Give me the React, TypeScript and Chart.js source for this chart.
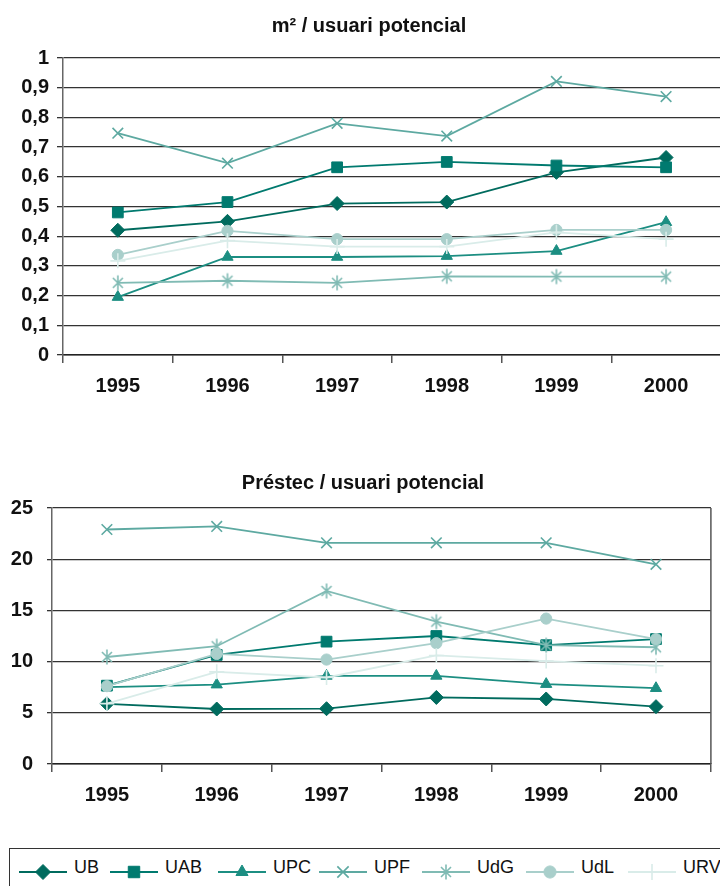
import React, { useEffect, useRef } from 'react';
import { Chart, registerables } from 'chart.js';
import { drawPoint } from 'chart.js/helpers';

Chart.register(...registerables);

// ---------- data ----------
const years = ['1995', '1996', '1997', '1998', '1999', '2000'];
const seriesNames = ['UB', 'UAB', 'UPC', 'UPF', 'UdG', 'UdL', 'URV'];

// m² / usuari potencial
const areaUB = [0.42, 0.45, 0.51, 0.515, 0.615, 0.665];
const areaUAB = [0.48, 0.515, 0.632, 0.65, 0.638, 0.632];
const areaUPC = [0.195, 0.33, 0.33, 0.333, 0.35, 0.447];
const areaUPF = [0.747, 0.646, 0.78, 0.737, 0.921, 0.87];
const areaUdG = [0.243, 0.25, 0.243, 0.265, 0.264, 0.264];
const areaUdL = [0.337, 0.418, 0.39, 0.39, 0.421, 0.421];
const areaURV = [0.317, 0.385, 0.365, 0.365, 0.413, 0.39];

// Préstec / usuari potencial
const loansUB = [5.88, 5.37, 5.4, 6.5, 6.35, 5.6];
const loansUAB = [7.65, 10.65, 11.95, 12.5, 11.6, 12.2];
const loansUPC = [7.5, 7.75, 8.6, 8.6, 7.8, 7.4];
const loansUPF = [22.9, 23.2, 21.6, 21.6, 21.6, 19.5];
const loansUdG = [10.45, 11.5, 16.9, 13.9, 11.6, 11.4];
const loansUdL = [7.6, 10.75, 10.2, 11.8, 14.2, 12.2];
const loansURV = [5.9, 9.0, 8.45, 10.6, 10.05, 9.6];

const areaYTicks = ['0', '0,1', '0,2', '0,3', '0,4', '0,5', '0,6', '0,7', '0,8', '0,9', '1'];
const loansYTicks = ['0', '5', '10', '15', '20', '25'];

const areaTitle = 'm² / usuari potencial';
const loansTitle = 'Préstec / usuari potencial';

// ---------- styles ----------
const FONT = "'Liberation Sans', Arial, Helvetica, sans-serif";
const seriesColors = ['#006B5E', '#007A6F', '#1C8E82', '#5DA9A1', '#80BBB4', '#A9CFCB', '#D9ECE9'];
const seriesRadius = [7, 7.6, 6.5, 7.5, 0, 5.6, 7.5];

function makeAsterisk(color: string): HTMLCanvasElement {
  const c = document.createElement('canvas');
  c.width = 18;
  c.height = 18;
  const ctx = c.getContext('2d')!;
  ctx.strokeStyle = color;
  ctx.lineWidth = 1.6;
  ctx.beginPath();
  ctx.moveTo(9, 1.5);
  ctx.lineTo(9, 16.5);
  ctx.moveTo(4, 4);
  ctx.lineTo(14, 14);
  ctx.moveTo(14, 4);
  ctx.lineTo(4, 14);
  ctx.stroke();
  return c;
}

function pointStyles(): any[] {
  return ['rectRot', 'rect', 'triangle', 'crossRot', makeAsterisk(seriesColors[4]), 'circle', 'cross'];
}

function buildDatasets(values: number[][]) {
  const styles = pointStyles();
  return values.map((data, i) => ({
    label: seriesNames[i],
    data,
    borderColor: seriesColors[i],
    backgroundColor: seriesColors[i],
    pointBackgroundColor: seriesColors[i],
    pointBorderColor: seriesColors[i],
    pointStyle: styles[i],
    pointRadius: seriesRadius[i] || 8,
    pointBorderWidth: i === 3 || i === 6 ? 1.6 : 1,
    borderWidth: 1.8,
    tension: 0,
    order: 6 - i,
  }));
}

const rightBorder = {
  id: 'rightBorder',
  afterDraw(chart: any) {
    const { ctx, chartArea } = chart;
    ctx.save();
    ctx.strokeStyle = '#555';
    ctx.lineWidth = 1.5;
    ctx.beginPath();
    ctx.moveTo(chartArea.right, chartArea.top);
    ctx.lineTo(chartArea.right, chartArea.bottom);
    ctx.stroke();
    ctx.restore();
  },
};

function makeOptions(
  yMin: number,
  yMax: number,
  step: number,
  labels: string[],
  yWidth: number,
  labelPad: number,
  tickLen: number,
  padRight: number,
  xHeight: number,
) {
  return {
    responsive: false,
    animation: false as const,
    devicePixelRatio: 1,
    layout: { padding: { top: 58, left: 0, right: padRight, bottom: 0 } },
    plugins: { legend: { display: false }, title: { display: false }, tooltip: { enabled: false } },
    events: [],
    scales: {
      x: {
        type: 'category' as const,
        offset: true,
        grid: {
          display: true,
          drawOnChartArea: false,
          drawTicks: true,
          tickLength: 8,
          offset: true,
          color: '#555',
          lineWidth: 1.5,
        },
        border: { display: true, color: '#222', width: 1.5 },
        ticks: {
          font: { family: FONT, size: 20, weight: 'bold' as const },
          color: '#111',
          padding: 11,
          maxRotation: 0,
        },
        afterFit: (s: any) => {
          s.height = xHeight;
        },
      },
      y: {
        min: yMin,
        max: yMax,
        ticks: {
          stepSize: step,
          callback: (_v: any, i: number) => labels[i],
          font: { family: FONT, size: 20, weight: 'bold' as const },
          color: '#111',
          padding: labelPad,
        },
        grid: { color: '#333', lineWidth: 1.3, tickLength: tickLen, drawTicks: true },
        border: { display: true, color: '#666', width: 1.5 },
        afterFit: (s: any) => {
          s.width = yWidth;
        },
      },
    },
  };
}

function LineChart(props: {
  width: number;
  height: number;
  top: number;
  values: number[][];
  options: any;
  plugins?: any[];
}) {
  const ref = useRef<HTMLCanvasElement | null>(null);
  useEffect(() => {
    if (!ref.current) return;
    const chart = new Chart(ref.current, {
      type: 'line',
      data: { labels: years, datasets: buildDatasets(props.values) as any },
      options: props.options,
      plugins: props.plugins || [],
    });
    return () => chart.destroy();
  }, []);
  return (
    <canvas
      ref={ref}
      width={props.width}
      height={props.height}
      style={{ position: 'absolute', left: 0, top: props.top, width: props.width, height: props.height }}
    />
  );
}

const legendLineX = [19, 110, 218, 319, 422, 526, 628];

function LegendItem(props: { index: number }) {
  const ref = useRef<HTMLCanvasElement | null>(null);
  const i = props.index;
  useEffect(() => {
    const c = ref.current;
    if (!c) return;
    const ctx = c.getContext('2d')!;
    ctx.clearRect(0, 0, c.width, c.height);
    ctx.strokeStyle = seriesColors[i];
    ctx.lineWidth = 1.8;
    ctx.beginPath();
    ctx.moveTo(0, 11);
    ctx.lineTo(48, 11);
    ctx.stroke();
    ctx.fillStyle = seriesColors[i];
    ctx.strokeStyle = seriesColors[i];
    ctx.lineWidth = i === 3 || i === 6 ? 1.6 : 1;
    const styles = pointStyles();
    drawPoint(ctx, { pointStyle: styles[i], radius: (seriesRadius[i] || 8) + 0.5, rotation: 0, borderWidth: ctx.lineWidth } as any, 24, 11);
  }, []);
  const x = legendLineX[i];
  return (
    <>
      <canvas ref={ref} width={50} height={22} style={{ position: 'absolute', left: x, top: 861, width: 50, height: 22 }} />
      <div
        style={{
          position: 'absolute',
          left: x + 55,
          top: 857,
          fontFamily: FONT,
          fontSize: 18,
          lineHeight: '20px',
          color: '#111',
          whiteSpace: 'nowrap',
        }}
      >
        {seriesNames[i]}
      </div>
    </>
  );
}

export default function App() {
  const areaValues = [areaUB, areaUAB, areaUPC, areaUPF, areaUdG, areaUdL, areaURV];
  const loansValues = [loansUB, loansUAB, loansUPC, loansUPF, loansUdG, loansUdL, loansURV];
  const titleStyle: React.CSSProperties = {
    position: 'absolute',
    width: 400,
    textAlign: 'center',
    fontFamily: FONT,
    fontWeight: 'bold',
    fontSize: 20,
    lineHeight: '24px',
    color: '#111',
    whiteSpace: 'nowrap',
  };
  return (
    <div
      style={{
        position: 'absolute',
        left: 0,
        top: 0,
        width: 720,
        height: 886,
        overflow: 'hidden',
        background: '#fff',
      }}
    >
      <LineChart
        width={730}
        height={400}
        top={0}
        values={areaValues}
        options={makeOptions(0, 1, 0.1, areaYTicks, 63, 8, 6, 7, 45)}
      />
      <LineChart
        width={720}
        height={360}
        top={450}
        values={loansValues}
        options={makeOptions(0, 25, 5, loansYTicks, 52, 14, 5, 8, 46)}
        plugins={[rightBorder]}
      />
      <div style={{ ...titleStyle, left: 169, top: 13 }}>{areaTitle}</div>
      <div style={{ ...titleStyle, left: 163, top: 470 }}>{loansTitle}</div>
      <div
        style={{
          position: 'absolute',
          left: 9,
          top: 848,
          width: 800,
          height: 100,
          border: '1.5px solid #333',
          boxSizing: 'border-box',
        }}
      />
      {seriesNames.map((_n, i) => (
        <LegendItem key={i} index={i} />
      ))}
    </div>
  );
}
